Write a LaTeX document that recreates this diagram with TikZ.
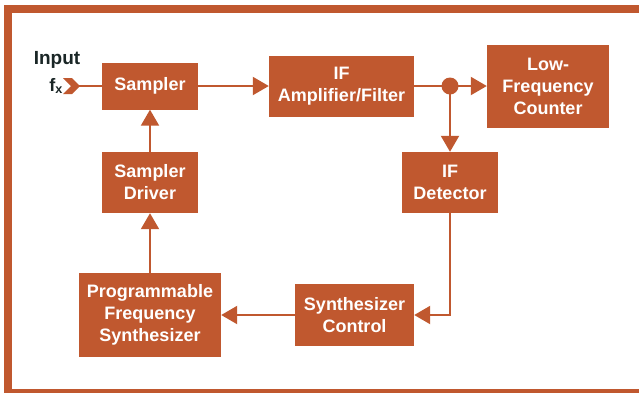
\documentclass[tikz,border=0pt]{standalone}
\usepackage{fontspec}
\setmainfont{Liberation Sans}
\usepackage{tikz}
\usetikzlibrary{positioning, arrows.meta}
\definecolor{rust}{HTML}{C0582F}
\definecolor{ink}{HTML}{1A2626}

\begin{document}
\begin{tikzpicture}[x=1pt,y=-1pt,
  blk/.style={fill=rust, text=white, align=center, inner sep=0pt,
    font=\fontsize{18}{22}\selectfont\bfseries},
  wire/.style={draw=rust, line width=2pt},
  feed/.style={wire, -{Triangle[length=16pt,width=18pt]}}]
\useasboundingbox (0,0) rectangle (639,392);
\fill[white] (0,0) rectangle (639,392);
\draw[rust, line width=8pt] (660,9) -- (8,9) -- (8,393) -- (660,393);
% blocks
\node[blk, minimum width=96pt, minimum height=47pt] (smp) at (150,86) {Sampler};
\node[blk, minimum width=145pt, minimum height=61pt] (ifa) at (341.5,86) {IF\\Amplifier/Filter};
\node[blk, minimum width=122pt, minimum height=83pt] (lfc) at (548,86) {Low-\\Frequency\\Counter};
\node[blk, minimum width=96pt, minimum height=61pt] (sd) at (150,182.5) {Sampler\\Driver};
\node[blk, minimum width=96pt, minimum height=61pt] (ifd) at (450,182.5) {IF\\Detector};
\node[blk, minimum width=142pt, minimum height=84pt] (pfs) at (150,315) {Programmable\\Frequency\\Synthesizer};
\node[blk, minimum width=119pt, minimum height=62pt] (sc) at (354.5,315) {Synthesizer\\Control};
% input
\fill[rust] (63,78) -- (72,78) -- (80,86) -- (72,94) -- (63,94) -- (71,86) -- cycle;
\coordinate (inp) at (78,86);
\node[text=ink, font=\fontsize{19}{22}\selectfont\bfseries] (lbl) at (57,60) {Input};
\node[text=ink, font=\fontsize{18}{22}\selectfont\bfseries, anchor=east, inner sep=0pt] (fx) at (63,86) {f$_{\mathbf{x}}$};
\fill[rust] (450,86) circle (8.5pt) coordinate (dot);
% connectors
\draw[wire] (inp) -- (smp);
\draw[feed] (smp) -- (ifa);
\draw[wire] (ifa) -- (dot);
\draw[feed] (dot) -- (lfc);
\draw[feed] (dot) -- (ifd);
\draw[feed] (ifd.south) |- (sc.east);
\draw[feed] (sc) -- (pfs);
\draw[feed] (pfs) -- (sd);
\draw[feed] (sd) -- (smp);
\end{tikzpicture}
\end{document}
